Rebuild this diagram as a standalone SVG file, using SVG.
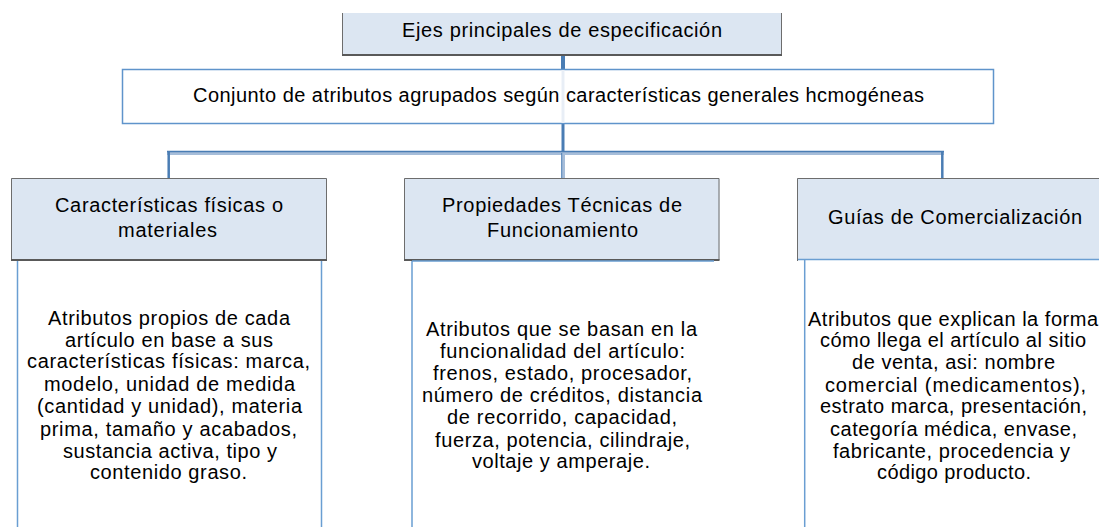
<svg xmlns="http://www.w3.org/2000/svg" width="1099" height="527" viewBox="0 0 1099 527">
<style>
text{font-family:"Liberation Sans",Arial,sans-serif;font-size:20px;fill:#000;}
.hdr{fill:#dce6f2;}
.gb{stroke:#6d6d6d;stroke-width:1;fill:none;}
.gbb{stroke:#595959;stroke-width:2;fill:none;}
.bb{stroke:#6a9ed2;stroke-width:1.5;fill:none;}
.cd{stroke:#4a7db4;fill:none;}
.cl{stroke:#a6bdd9;fill:none;}
</style>
<rect width="1099" height="527" fill="#fff"/>
<g id="connectors">
<line class="cd" x1="563" y1="55" x2="563" y2="70" stroke-width="4"/>
<line class="cd" x1="563" y1="124" x2="563" y2="152" stroke-width="3"/>
<line class="cl" x1="167" y1="153.5" x2="944" y2="153.5" stroke-width="3"/>
<line class="cd" x1="167" y1="151.5" x2="944" y2="151.5" stroke-width="1.5"/>
<line class="cd" x1="168.7" y1="151" x2="168.7" y2="178" stroke-width="2.5"/>
<line class="cd" x1="942.3" y1="151" x2="942.3" y2="178" stroke-width="2.5"/>
<line class="cl" x1="563.5" y1="153" x2="563.5" y2="178" stroke-width="3"/>
<line class="cd" x1="561.7" y1="153" x2="561.7" y2="178" stroke-width="1"/>
</g>
<g id="top">
<rect class="hdr" x="342" y="13" width="440" height="42"/>
<path class="gb" d="M342.5 13V55M781.5 13V55"/>
<path class="gbb" d="M342 55H782"/>
<text x="402" y="37" textLength="320" lengthAdjust="spacing">Ejes principales de especificación</text>
</g>
<g id="conjunto">
<rect x="122.5" y="69.5" width="871" height="54" fill="#fff" stroke="#5f94cb" stroke-width="1.5"/>
<line x1="563" y1="70" x2="563" y2="123" stroke="#e8eef6" stroke-width="3"/>
<text x="193" y="102" textLength="731" lengthAdjust="spacing">Conjunto de atributos agrupados según características generales hcmogéneas</text>
</g>
<g id="fisicas">
<rect class="hdr" x="11" y="178" width="316" height="82"/>
<path class="gb" d="M11.5 260V178.5H326.5V260"/>
<path class="gbb" d="M11 260H327"/>
<path class="bb" d="M17.5 261V540M321.5 261V540"/>
<text x="55" y="212" textLength="228" lengthAdjust="spacing">Características físicas o</text>
<text x="118" y="237" textLength="99" lengthAdjust="spacing">materiales</text>
<text x="48" y="325" textLength="242" lengthAdjust="spacing">Atributos propios de cada</text>
<text x="65" y="347" textLength="208" lengthAdjust="spacing">artículo en base a sus</text>
<text x="27" y="368" textLength="283" lengthAdjust="spacing">características físicas: marca,</text>
<text x="44" y="391" textLength="251" lengthAdjust="spacing">modelo, unidad de medida</text>
<text x="37" y="413" textLength="265" lengthAdjust="spacing">(cantidad y unidad), materia</text>
<text x="40" y="436" textLength="257" lengthAdjust="spacing">prima, tamaño y acabados,</text>
<text x="63" y="458" textLength="214" lengthAdjust="spacing">sustancia activa, tipo y</text>
<text x="90" y="479" textLength="157" lengthAdjust="spacing">contenido graso.</text>
</g>
<g id="tecnicas">
<rect class="hdr" x="404" y="178" width="315.5" height="82"/>
<path class="gb" d="M404.5 260V178.5H719V260"/>
<path class="gbb" d="M404 260H719.5"/>
<path class="bb" d="M412 261V540M412 261H714"/>
<text x="442" y="212" textLength="240" lengthAdjust="spacing">Propiedades Técnicas de</text>
<text x="487" y="237" textLength="151" lengthAdjust="spacing">Funcionamiento</text>
<text x="426" y="336" textLength="271" lengthAdjust="spacing">Atributos que se basan en la</text>
<text x="440" y="358" textLength="245" lengthAdjust="spacing">funcionalidad del artículo:</text>
<text x="433" y="380" textLength="259" lengthAdjust="spacing">frenos, estado, procesador,</text>
<text x="422" y="402" textLength="280" lengthAdjust="spacing">número de créditos, distancia</text>
<text x="447" y="424" textLength="230" lengthAdjust="spacing">de recorrido, capacidad,</text>
<text x="435" y="447" textLength="255" lengthAdjust="spacing">fuerza, potencia, cilindraje,</text>
<text x="472" y="468" textLength="178" lengthAdjust="spacing">voltaje y amperaje.</text>
</g>
<g id="comercializacion">
<rect class="hdr" x="797" y="178" width="310" height="82"/>
<path class="gb" d="M797.5 261V178.5H1105"/>
<path class="bb" d="M798 259.5H1105M804.7 260V540"/>
<text x="828" y="224" textLength="254" lengthAdjust="spacing">Guías de Comercialización</text>
<text x="808" y="326" textLength="290" lengthAdjust="spacing">Atributos que explican la forma</text>
<text x="820" y="347" textLength="266" lengthAdjust="spacing">cómo llega el artículo al sitio</text>
<text x="852" y="369" textLength="203" lengthAdjust="spacing">de venta, asi: nombre</text>
<text x="825" y="392" textLength="261" lengthAdjust="spacing">comercial (medicamentos),</text>
<text x="820" y="413" textLength="267" lengthAdjust="spacing">estrato marca, presentación,</text>
<text x="830" y="436" textLength="247" lengthAdjust="spacing">categoría médica, envase,</text>
<text x="833" y="458" textLength="237" lengthAdjust="spacing">fabricante, procedencia y</text>
<text x="877" y="479" textLength="154" lengthAdjust="spacing">código producto.</text>
</g>
</svg>
